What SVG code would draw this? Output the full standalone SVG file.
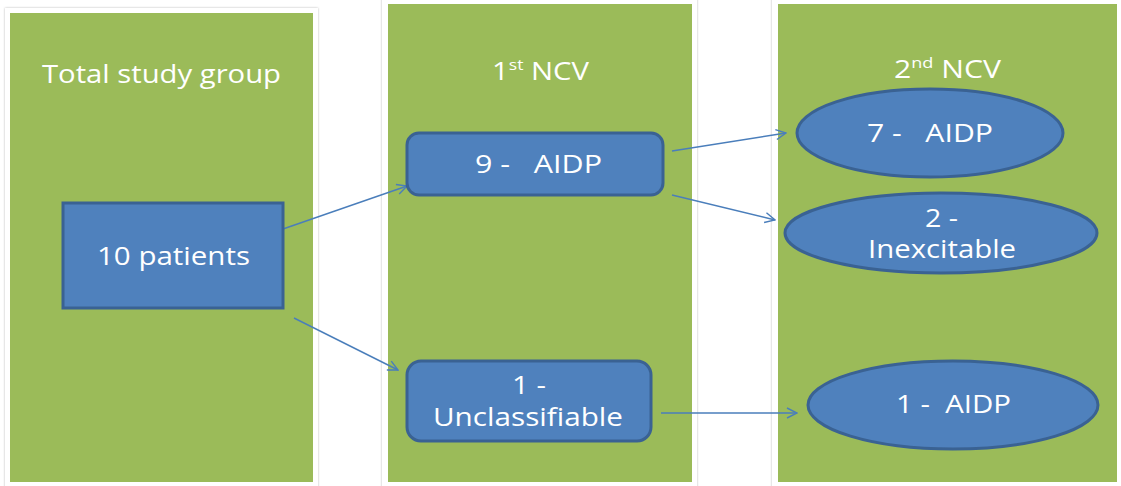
<svg xmlns="http://www.w3.org/2000/svg" width="1121" height="486" viewBox="0 0 1121 486">
  <defs>
    <marker id="open-arrow" viewBox="0 0 12 12" refX="11" refY="6" markerWidth="12" markerHeight="12" markerUnits="userSpaceOnUse" orient="auto">
      <path d="M1,1 L11,6 L1,11" fill="none" stroke="#4a7ebb" stroke-width="1.4"/>
    </marker>
    <filter id="frame-shadow" x="-5%" y="-5%" width="110%" height="110%">
      <feDropShadow dx="0" dy="0" stdDeviation="1.2" flood-color="#9a9a9a" flood-opacity="0.7"/>
    </filter>
  </defs>
  <style>
    .frame { fill: #ffffff; filter: url(#frame-shadow); }
    .panel { fill: #9bbb59; }
    .node { fill: #4f81bd; stroke: #3a6293; stroke-width: 3; }
    .label { font-family: "Open Sans", "Noto Sans", "Liberation Sans", sans-serif; font-size: 25px; fill: #ffffff; text-anchor: middle; }
    .sup { font-size: 15px; }
    .link { fill: none; stroke: #4a7ebb; stroke-width: 1.4; marker-end: url(#open-arrow); }
  </style>

  <rect x="0" y="0" width="1121" height="486" fill="#ffffff"/>

  <!-- column panels -->
  <g id="col-total">
    <rect class="frame" x="5" y="8" width="313" height="484"/>
    <rect class="panel" x="10" y="13" width="303" height="469"/>
    <text class="label" x="161.5" y="83" textLength="239" lengthAdjust="spacingAndGlyphs">Total study group</text>
  </g>
  <g id="col-first">
    <rect class="frame" x="382" y="-2" width="315" height="494"/>
    <rect class="panel" x="388" y="4" width="304" height="478"/>
    <text class="label" x="540.5" y="80" textLength="97" lengthAdjust="spacingAndGlyphs">1<tspan class="sup" dy="-10">st</tspan><tspan dy="10"> NCV</tspan></text>
  </g>
  <g id="col-second">
    <rect class="frame" x="772" y="-2" width="355" height="494"/>
    <rect class="panel" x="778" y="4" width="339" height="478"/>
    <text class="label" x="947.5" y="78" textLength="107" lengthAdjust="spacingAndGlyphs">2<tspan class="sup" dy="-10">nd</tspan><tspan dy="10"> NCV</tspan></text>
  </g>

  <!-- connectors -->
  <g id="connectors">
    <line class="link" x1="283" y1="229" x2="407" y2="186"/>
    <line class="link" x1="294" y1="318" x2="398" y2="370"/>
    <line class="link" x1="672" y1="151" x2="786" y2="133"/>
    <line class="link" x1="672" y1="195" x2="775" y2="220"/>
    <line class="link" x1="661" y1="413" x2="797" y2="413"/>
  </g>

  <!-- nodes -->
  <g id="patients">
    <rect class="node" x="63" y="203" width="220" height="105"/>
    <text class="label" x="173.5" y="265" textLength="153" lengthAdjust="spacingAndGlyphs">10 patients</text>
  </g>
  <g id="first-aidp">
    <rect class="node" x="407" y="133" width="256" height="62" rx="12"/>
    <text class="label" x="538.5" y="173" textLength="127" lengthAdjust="spacingAndGlyphs" xml:space="preserve">9 -   AIDP</text>
  </g>
  <g id="first-unclassifiable">
    <rect class="node" x="407" y="361" width="244" height="80" rx="14"/>
    <text class="label" x="529" y="394" textLength="34" lengthAdjust="spacingAndGlyphs">1 -</text>
    <text class="label" x="528" y="426" textLength="190" lengthAdjust="spacingAndGlyphs">Unclassifiable</text>
  </g>
  <g id="second-aidp-7">
    <ellipse class="node" cx="930" cy="133" rx="133" ry="44"/>
    <text class="label" x="930" y="142" textLength="126" lengthAdjust="spacingAndGlyphs" xml:space="preserve">7 -   AIDP</text>
  </g>
  <g id="second-inexcitable">
    <ellipse class="node" cx="941" cy="233" rx="156" ry="40"/>
    <text class="label" x="941.5" y="227" textLength="33" lengthAdjust="spacingAndGlyphs">2 -</text>
    <text class="label" x="942" y="258" textLength="148" lengthAdjust="spacingAndGlyphs">Inexcitable</text>
  </g>
  <g id="second-aidp-1">
    <ellipse class="node" cx="953" cy="405" rx="145" ry="44"/>
    <text class="label" x="953.5" y="413" textLength="115" lengthAdjust="spacingAndGlyphs" xml:space="preserve">1 -  AIDP</text>
  </g>
</svg>
